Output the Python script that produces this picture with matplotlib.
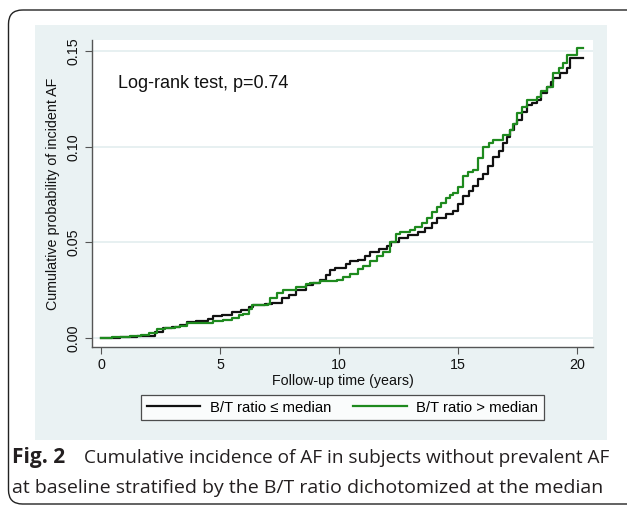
import matplotlib
matplotlib.use("Agg")
import matplotlib.pyplot as plt
from matplotlib.patches import FancyBboxPatch, Rectangle
from matplotlib.lines import Line2D

# ---- data ----
t_low = [0, 0.8, 1.5, 1.9, 2.25, 2.6, 3.0, 3.3, 3.6, 4.0, 4.5, 4.72, 5.1, 5.5, 5.9, 6.2, 6.4,
         6.9, 7.2, 7.6, 7.9, 8.2, 8.6, 8.9, 9.2, 9.45, 9.6, 9.85, 10.3, 10.45, 10.8, 11.1, 11.3,
         11.7, 12.0, 12.2, 12.5, 12.9, 13.3, 13.6, 13.9, 14.1, 14.5, 14.8, 15.0, 15.2, 15.45,
         15.64, 15.85, 16.06, 16.25, 16.48, 16.7, 16.9, 17.05, 17.18, 17.35, 17.47, 17.7, 17.89,
         18.1, 18.31, 18.5, 18.73, 18.9, 19.0, 19.3, 19.56, 19.7, 20.25]
p_low = [0, 0.0003, 0.0008, 0.0013, 0.0032, 0.005, 0.0058, 0.0068, 0.0085, 0.009, 0.010, 0.0114,
         0.012, 0.0134, 0.0148, 0.016, 0.017, 0.0178, 0.0185, 0.021, 0.0224, 0.025, 0.0275, 0.029,
         0.0303, 0.033, 0.0355, 0.0367, 0.0385, 0.040, 0.0408, 0.043, 0.045, 0.0464, 0.048, 0.0503,
         0.0521, 0.0539, 0.0556, 0.0575, 0.060, 0.0627, 0.065, 0.0662, 0.070, 0.074, 0.077, 0.0793,
         0.083, 0.086, 0.090, 0.0948, 0.098, 0.1017, 0.105, 0.1087, 0.112, 0.114, 0.118, 0.1218,
         0.123, 0.1244, 0.128, 0.1314, 0.134, 0.1358, 0.1385, 0.1411, 0.1463, 0.1463]

t_high = [0, 0.45, 1.2, 1.7, 2.0, 2.34, 2.7, 3.1, 3.32, 3.6, 4.3, 4.72, 5.14, 5.5, 5.8, 5.98, 6.2,
          6.33, 7.0, 7.1, 7.4, 7.66, 8.2, 8.6, 8.78, 9.2, 9.9, 10.18, 10.46, 10.8, 11.02, 11.3,
          11.6, 11.86, 12.14, 12.4, 12.56, 12.98, 13.2, 13.5, 13.7, 13.9, 14.1, 14.3, 14.5, 14.66,
          14.8, 15.0, 15.22, 15.4, 15.64, 15.85, 16.06, 16.3, 16.48, 16.9, 17.18, 17.3, 17.47, 17.7,
          17.89, 18.31, 18.5, 18.73, 19.0, 19.25, 19.42, 19.56, 19.98, 20.25]
p_high = [0, 0.0005, 0.0008, 0.0015, 0.0025, 0.0046, 0.0052, 0.0058, 0.0062, 0.0076, 0.0079, 0.0089,
          0.0093, 0.0107, 0.0118, 0.0127, 0.015, 0.017, 0.0178, 0.0207, 0.0235, 0.025, 0.0268, 0.028,
          0.0286, 0.0299, 0.0303, 0.0317, 0.0334, 0.036, 0.0376, 0.040, 0.043, 0.045, 0.0503, 0.0545,
          0.0556, 0.0565, 0.058, 0.060, 0.063, 0.066, 0.0687, 0.0706, 0.073, 0.075, 0.0758, 0.079,
          0.0845, 0.087, 0.088, 0.094, 0.100, 0.102, 0.1035, 0.106, 0.1087, 0.112, 0.1174, 0.121,
          0.1244, 0.1262, 0.129, 0.1314, 0.1385, 0.141, 0.1437, 0.148, 0.1516, 0.1516]

series_labels = ["B/T ratio \u2264 median", "B/T ratio > median"]
x_ticks = [0, 5, 10, 15, 20]
y_ticks = [0.00, 0.05, 0.10, 0.15]
annotation = "Log-rank test, p=0.74"
x_label = "Follow-up time (years)"
y_label = "Cumulative probability of incident AF"

# ---- figure ----
W, H = 627, 508
plt.rcParams["font.family"] = ["Liberation Sans", "DejaVu Sans"]
fig = plt.figure(figsize=(W / 100, H / 100), dpi=100)
fig.patch.set_facecolor("white")

def fx(px):
    return px / W

def fy(py):
    return 1 - py / H

# background axes holding the border and the graph region
bg = fig.add_axes([0, 0, 1, 1], zorder=0)
bg.set_xlim(0, W)
bg.set_ylim(H, 0)
bg.axis("off")
bg.add_patch(FancyBboxPatch((8.5, 10), 660, 494, boxstyle="round,pad=0,rounding_size=14",
                            facecolor="none", edgecolor="#222222", linewidth=1.0))
bg.add_patch(Rectangle((35, 25), 607 - 35, 440 - 25, facecolor="#EAF2F3", edgecolor="none"))

BLACK = "#111111"
GREEN = "#1E8A1E"

ax = fig.add_axes([fx(92), fy(347), fx(593 - 92), fy(40) - fy(347)], zorder=2)
ax.set_facecolor("white")
ax.set_xlim(-0.378, 20.67)
ax.set_ylim(-0.0047, 0.1558)

for v in y_ticks:
    ax.axhline(v, color="#E3EDEF", linewidth=1.2, zorder=1)

ax.plot(t_low, p_low, drawstyle="steps-post", color=BLACK, linewidth=1.6, zorder=3,
        label=series_labels[0])
ax.plot(t_high, p_high, drawstyle="steps-post", color=GREEN, linewidth=1.6, zorder=4,
        label=series_labels[1])

for s in ["top", "right"]:
    ax.spines[s].set_visible(False)
for s in ["left", "bottom"]:
    ax.spines[s].set_color("#555555")
    ax.spines[s].set_linewidth(1.0)

ax.set_xticks(x_ticks)
ax.set_xticklabels([str(v) for v in x_ticks])
ax.set_yticks(y_ticks)
ax.set_yticklabels([f"{v:.2f}" for v in y_ticks], rotation=90, va="center")
ax.tick_params(axis="both", direction="out", length=5, width=0.8, color="#555555",
               labelsize=10.3, labelcolor="#111111", pad=3)

ax.set_xlabel(x_label, fontsize=10.3, color="#111111", labelpad=1)
ax.set_ylabel(y_label, fontsize=10.3, color="#111111", labelpad=5)

ax.text(0.7, 0.1330, annotation, fontsize=13, color="#111111", va="center", ha="left")

# legend
handles = [Line2D([], [], color=BLACK, linewidth=1.6),
           Line2D([], [], color=GREEN, linewidth=1.6)]
leg = bg.legend(handles, series_labels, loc="center",
                bbox_to_anchor=(fx(342.5), fy(407.5)), bbox_transform=fig.transFigure,
                ncol=2, fontsize=10.7,
                frameon=True, fancybox=False, edgecolor="#222222",
                handlelength=3.6, handletextpad=0.65, columnspacing=1.5,
                borderpad=0.35)
leg.get_frame().set_linewidth(0.9)
leg.get_frame().set_facecolor("white")
leg.set_zorder(5)

# caption
cap_font = ["Open Sans", "DejaVu Sans"]
fig.text(fx(12), fy(457), "Fig. 2", fontsize=15, fontweight="bold", family=cap_font,
         color="#231F20", va="center", ha="left")
fig.text(fx(84), fy(458), "Cumulative incidence of AF in subjects without prevalent AF",
         fontsize=13.7, family=cap_font, color="#231F20", va="center", ha="left")
fig.text(fx(12), fy(488), "at baseline stratified by the B/T ratio dichotomized at the median",
         fontsize=14, family=cap_font, color="#231F20", va="center", ha="left")

fig.savefig("out.png", dpi=100, facecolor="white")
